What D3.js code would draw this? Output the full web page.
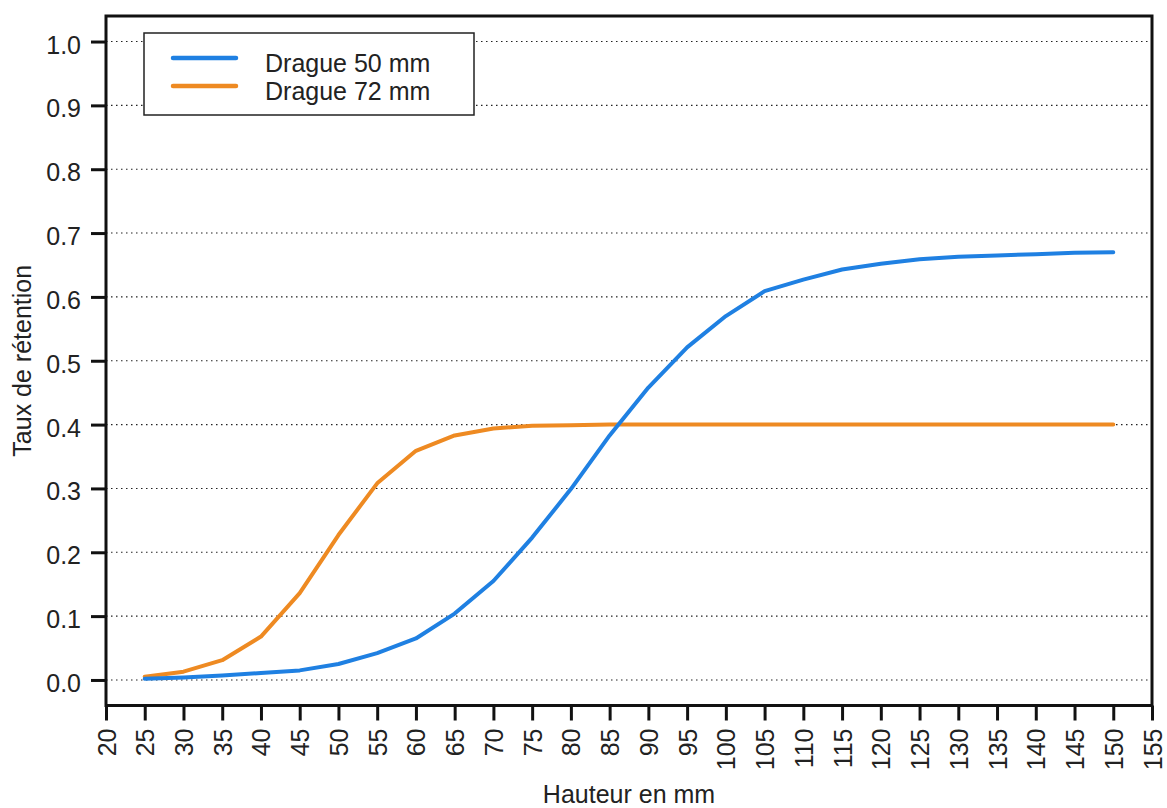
<!DOCTYPE html>
<html>
<head>
<meta charset="utf-8">
<script src="https://cdn.jsdelivr.net/npm/d3@7"></script>
<style>
  html, body { margin: 0; padding: 0; background: #fff; }
  svg { display: block; font-family: "Liberation Sans", Arial, sans-serif; }
</style>
</head>
<body>
<svg id="chart" width="1167" height="808"></svg>
<script>
// ---- data ----
const heights = [25,30,35,40,45,50,55,60,65,70,75,80,85,90,95,100,105,110,115,120,125,130,135,140,145,150];
const drague50 = [0.002,0.004,0.007,0.011,0.015,0.025,0.042,0.065,0.104,0.155,0.223,0.299,0.383,0.458,0.521,0.570,0.609,0.627,0.643,0.652,0.659,0.663,0.665,0.667,0.669,0.670];
const drague72 = [0.005,0.013,0.031,0.068,0.136,0.227,0.308,0.359,0.383,0.394,0.398,0.399,0.400,0.400,0.400,0.400,0.400,0.400,0.400,0.400,0.400,0.400,0.400,0.400,0.400,0.400];
const seriesNames = ["Drague 50 mm", "Drague 72 mm"];
const xTicks = [20,25,30,35,40,45,50,55,60,65,70,75,80,85,90,95,100,105,110,115,120,125,130,135,140,145,150,155];
const yTicks = [0.0,0.1,0.2,0.3,0.4,0.5,0.6,0.7,0.8,0.9,1.0];
const xTitle = "Hauteur en mm";
const yTitle = "Taux de rétention";

// ---- layout ----
const W = 1167, H = 808;
const L = 106, R = 1152, T = 16, B = 705.5;
const colors = ["#1f80e2", "#ee8a22"];

const svg = d3.select("#chart");
const x = d3.scaleLinear().domain([20, 155]).range([L, R]);
const y = d3.scaleLinear().domain([-0.04, 1.04]).range([B, T]);

// grid
svg.append("g").selectAll("line").data(yTicks).join("line")
  .attr("x1", L).attr("x2", R)
  .attr("y1", d => y(d)).attr("y2", d => y(d))
  .attr("stroke", "#222").attr("stroke-width", 1.1)
  .attr("stroke-dasharray", "1.5,3.5");

// lines
const line = d3.line().x(d => x(d[0])).y(d => y(d[1]));
[drague72, drague50].forEach((vals, i) => {
  const idx = i === 0 ? 1 : 0;
  svg.append("path")
    .datum(heights.map((h, k) => [h, vals[k]]))
    .attr("d", line)
    .attr("fill", "none")
    .attr("stroke", colors[idx])
    .attr("stroke-width", 4)
    .attr("stroke-linejoin", "round")
    .attr("stroke-linecap", "round");
});

// axes
const fontSize = 25;
const yAxis = svg.append("g").attr("transform", `translate(${L},0)`)
  .call(d3.axisLeft(y).tickValues(yTicks).tickFormat(d3.format(".1f")).tickSize(15).tickPadding(10));
yAxis.select(".domain").remove();
yAxis.selectAll(".tick line").attr("stroke", "#111").attr("stroke-width", 3);
yAxis.selectAll(".tick text").attr("font-size", fontSize).attr("fill", "#222")
  .attr("font-family", "Liberation Sans, Arial, sans-serif").attr("dy", "0.46em");

const xAxis = svg.append("g").attr("transform", `translate(0,${B})`)
  .call(d3.axisBottom(x).tickValues(xTicks).tickFormat(d3.format("d")).tickSize(15));
xAxis.select(".domain").remove();
xAxis.selectAll(".tick line").attr("stroke", "#111").attr("stroke-width", 3);
xAxis.selectAll(".tick text")
  .attr("font-size", fontSize).attr("fill", "#222")
  .attr("font-family", "Liberation Sans, Arial, sans-serif")
  .attr("transform", "rotate(-90)")
  .attr("x", -23).attr("y", 0).attr("dy", "0.36em")
  .attr("text-anchor", "end");

// frame
svg.append("rect").attr("x", L).attr("y", T).attr("width", R - L).attr("height", B - T)
  .attr("fill", "none").attr("stroke", "#111").attr("stroke-width", 3);

// titles
svg.append("text").attr("x", (L + R) / 2).attr("y", 803)
  .attr("text-anchor", "middle").attr("font-size", fontSize).attr("fill", "#222").text(xTitle);
svg.append("text").attr("transform", `translate(31,${(T + B) / 2}) rotate(-90)`)
  .attr("text-anchor", "middle").attr("font-size", 25).attr("fill", "#222").text(yTitle);

// legend
const lg = svg.append("g");
lg.append("rect").attr("x", 144).attr("y", 33).attr("width", 330).attr("height", 82)
  .attr("fill", "#fff").attr("stroke", "#222").attr("stroke-width", 1.5);
seriesNames.forEach((name, i) => {
  const yy = 58 + i * 28;
  lg.append("line").attr("x1", 173).attr("x2", 236).attr("y1", yy).attr("y2", yy)
    .attr("stroke", colors[i]).attr("stroke-width", 4.5).attr("stroke-linecap", "round");
  lg.append("text").attr("x", 265).attr("y", yy + 13.5)
    .attr("font-size", fontSize).attr("fill", "#222").text(name);
});
</script>
</body>
</html>
